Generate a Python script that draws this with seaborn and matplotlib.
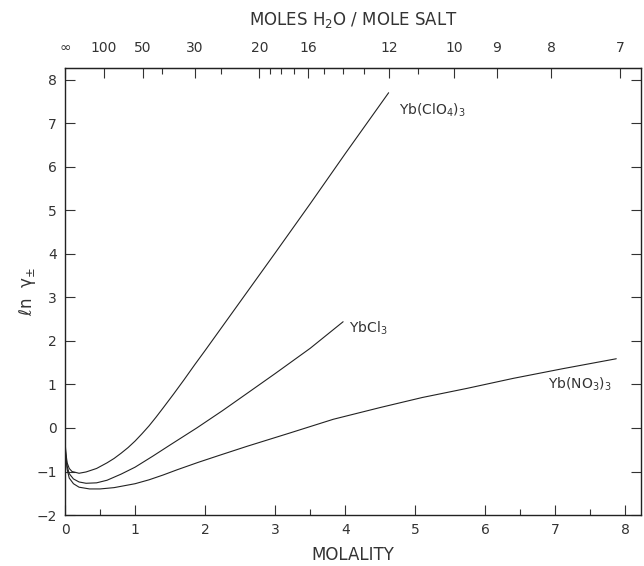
import seaborn as sns
import matplotlib.pyplot as plt
import pandas as pd

# values (molality, ln gamma+-)
clo4_m = [0.003, 0.01, 0.03, 0.06, 0.1, 0.2, 0.3, 0.45, 0.6, 0.7, 0.8, 0.9, 1.0,
          1.1, 1.2, 1.3, 1.4, 1.55, 1.7, 1.85, 2.0, 2.5, 3.0, 3.5, 4.0, 4.62]
clo4_ln = [-0.35, -0.55, -0.8, -0.93, -1.0, -1.04, -1.01, -0.93, -0.8, -0.7, -0.58,
           -0.45, -0.3, -0.13, 0.05, 0.25, 0.46, 0.78, 1.11, 1.45, 1.78, 2.9, 4.02,
           5.15, 6.3, 7.7]

cl_m = [0.003, 0.01, 0.03, 0.06, 0.12, 0.2, 0.3, 0.45, 0.6, 0.8, 1.0, 1.25, 1.5,
        1.88, 2.25, 2.63, 3.0, 3.5, 3.97]
cl_ln = [-0.38, -0.6, -0.88, -1.05, -1.17, -1.24, -1.27, -1.26, -1.2, -1.06, -0.9,
         -0.65, -0.39, 0.0, 0.4, 0.83, 1.25, 1.83, 2.44]

no3_m = [0.003, 0.01, 0.03, 0.06, 0.12, 0.2, 0.35, 0.5, 0.7, 1.0, 1.2, 1.4, 1.6,
         1.9, 2.2, 2.6, 3.2, 3.83, 4.5, 5.1, 5.74, 6.4, 7.1, 7.87]
no3_ln = [-0.4, -0.65, -0.95, -1.15, -1.28, -1.36, -1.4, -1.4, -1.37, -1.28, -1.19,
          -1.08, -0.96, -0.79, -0.63, -0.42, -0.12, 0.2, 0.47, 0.7, 0.91, 1.14,
          1.36, 1.59]

# top axis: moles of water per mole of salt
top_major = [100, 50, 30, 20, 16, 12, 10, 9, 8, 7]
top_minor = [40, 25, 19, 18, 17, 15, 14, 13, 11]
WATER = 55.51

ink = "#333333"


def main():
    sns.set_style("ticks")
    plt.rcParams["font.family"] = ["DejaVu Sans"]
    plt.rcParams["mathtext.default"] = "regular"

    df = pd.concat([
        pd.DataFrame({"m": clo4_m, "ln": clo4_ln, "salt": "ClO4"}),
        pd.DataFrame({"m": cl_m, "ln": cl_ln, "salt": "Cl"}),
        pd.DataFrame({"m": no3_m, "ln": no3_ln, "salt": "NO3"}),
    ])

    fig = plt.figure(figsize=(6.44, 5.66), dpi=100)
    ax = fig.add_axes([0.101, 0.090, 0.894, 0.790])
    sns.lineplot(data=df, x="m", y="ln", hue="salt", palette=["#222222"] * 3,
                 linewidth=0.8, legend=False, sort=False, ax=ax, estimator=None)

    ax.set_xlim(0, 8.22)
    ax.set_ylim(-2, 8.27)
    ax.set_xticks(range(0, 9))
    ax.set_xticks([0.5, 3.5, 6.5, 7.5], minor=True)
    ax.set_yticks(range(-2, 9))
    ax.tick_params(axis="both", which="both", direction="in", colors=ink,
                   labelsize=10, right=True, length=7, width=0.8, pad=6)
    ax.tick_params(which="minor", length=4)
    for s in ax.spines.values():
        s.set_color("#222222")
        s.set_linewidth(1.0)

    ax.set_xlabel("MOLALITY", fontsize=12, color=ink, labelpad=6)
    ax.set_ylabel(r"$\ell$n  $\gamma_{\pm}$", fontsize=12, color=ink, labelpad=-1)

    top = ax.secondary_xaxis("top")
    top.set_xticks([0] + [WATER / n for n in top_major],
                   ["\u221e"] + [str(n) for n in top_major])
    top.set_xticks([WATER / n for n in top_minor], minor=True)
    top.tick_params(axis="x", which="both", direction="in", colors=ink,
                    labelsize=10, length=7, width=0.8, pad=9)
    top.tick_params(which="minor", length=4)
    top.set_xlabel("MOLES H$_2$O / MOLE SALT", fontsize=12, color=ink, labelpad=12)

    ax.text(4.77, 7.3, "Yb(ClO$_4$)$_3$", fontsize=10, color=ink, va="center")
    ax.text(4.05, 2.3, "YbCl$_3$", fontsize=10, color=ink, va="center")
    ax.text(6.9, 1.0, "Yb(NO$_3$)$_3$", fontsize=10, color=ink, va="center")

    fig.savefig("out.png", dpi=100)


if __name__ == "__main__":
    main()
